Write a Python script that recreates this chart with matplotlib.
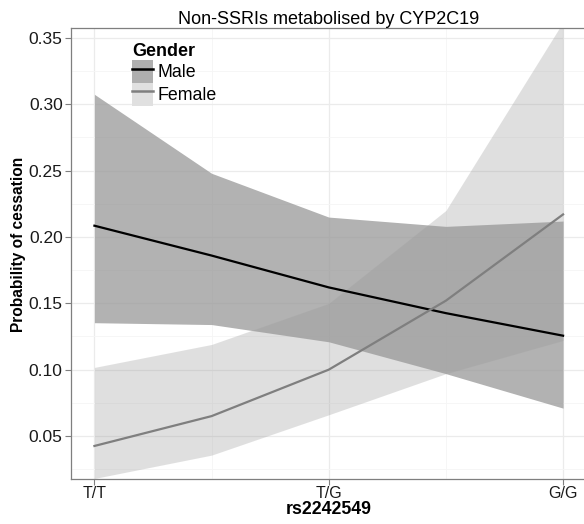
import matplotlib
matplotlib.use("Agg")
import matplotlib.pyplot as plt
from matplotlib.patches import Patch
from matplotlib.lines import Line2D
import numpy as np

plt.rcParams["font.family"] = ["Liberation Sans", "DejaVu Sans"]

# genotype positions (half steps are interpolated model points)
x_pos = [0, 0.5, 1, 1.5, 2]
genotypes = ["T/T", "T/G", "G/G"]

male_fit = [0.2085, 0.186, 0.162, 0.1426, 0.1256]
male_upper = [0.3075, 0.248, 0.215, 0.208, 0.212]
male_lower = [0.1354, 0.134, 0.121, 0.097, 0.071]

female_fit = [0.0425, 0.065, 0.100, 0.152, 0.217]
female_upper = [0.1017, 0.119, 0.150, 0.220, 0.362]
female_lower = [0.018, 0.0356, 0.066, 0.097, 0.122]

fig = plt.figure(figsize=(5.84, 5.24), dpi=100)
ax = fig.add_axes([71 / 584, 1 - 479 / 524, 515.5 / 584, 451 / 524])

# bands
ax.fill_between(x_pos, female_lower, female_upper, color="#989898", alpha=0.3,
                linewidth=0, zorder=2)
ax.fill_between(x_pos, male_lower, male_upper, color="#989898", alpha=0.75,
                linewidth=0, zorder=3)
ax.plot(x_pos, male_fit, color="black", lw=1.6, zorder=4)
ax.plot(x_pos, female_fit, color="#7f7f7f", lw=1.6, zorder=4)

ax.set_xlim(-0.1, 2.1)
ax.set_ylim(0.0176, 0.3575)
ax.set_xticks([0, 1, 2])
ax.set_xticklabels(genotypes)
ax.set_yticks([0.05, 0.10, 0.15, 0.20, 0.25, 0.30, 0.35])
ax.set_yticklabels(["0.05", "0.10", "0.15", "0.20", "0.25", "0.30", "0.35"])
ax.set_xticks([0.5, 1.5], minor=True)
ax.set_yticks([0.025, 0.075, 0.125, 0.175, 0.225, 0.275, 0.325], minor=True)

ax.grid(True, which="major", color="#ebebeb", lw=0.9, zorder=0)
ax.grid(True, which="minor", color="#f5f5f5", lw=0.6, zorder=0)
ax.set_axisbelow(True)

ax.tick_params(axis="both", which="major", length=4, width=0.8, color="#7f7f7f",
               labelcolor="#1a1a1a")
ax.tick_params(axis="y", labelsize=12.5, pad=2)
ax.tick_params(axis="x", labelsize=11.5, pad=1)
ax.tick_params(which="minor", length=0)
for s in ax.spines.values():
    s.set_color("#7f7f7f")
    s.set_linewidth(0.9)

ax.set_title("Non-SSRIs metabolised by CYP2C19", fontsize=13, pad=3)
ax.set_xlabel("rs2242549", fontsize=12.8, fontweight="bold", labelpad=0)
fig.text(19 / 584, 1 - 244.5 / 524, "Probability of cessation", rotation=90,
         fontsize=11.2, fontweight="bold", ha="center", va="center")

handles = [
    (Patch(facecolor="#afafaf", edgecolor="none"), Line2D([], [], color="black", lw=1.8)),
    (Patch(facecolor="#e0e0e0", edgecolor="none"), Line2D([], [], color="#7f7f7f", lw=1.8)),
]
leg = ax.legend(handles, ["Male", "Female"], title="Gender", loc="upper left",
                bbox_to_anchor=(0.119, 0.967), frameon=False, fontsize=12.8,
                title_fontsize=13, handlelength=1.15, handleheight=1.6,
                handletextpad=0.25, labelspacing=0.0, borderaxespad=0,
                borderpad=0)
leg.get_title().set_fontweight("bold")
leg._legend_box.align = "left"

fig.savefig("out.png", dpi=100)
